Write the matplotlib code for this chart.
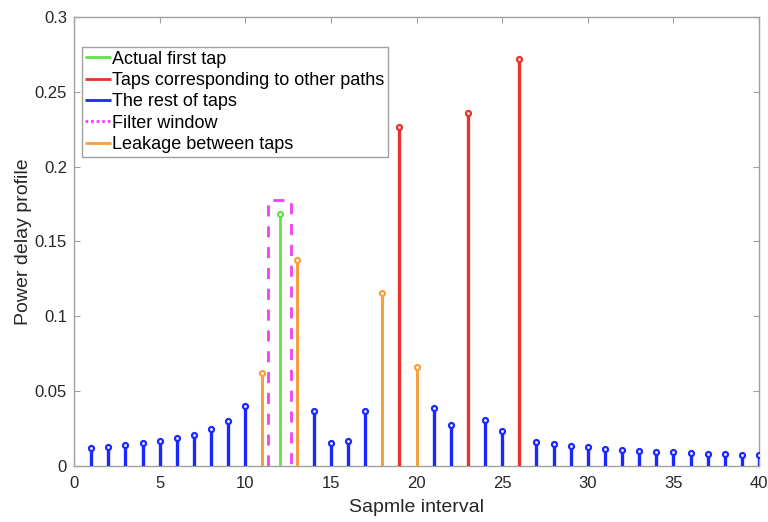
import matplotlib
matplotlib.use("Agg")
import matplotlib.pyplot as plt
import numpy as np

plt.rcParams["font.family"] = ["Liberation Sans", "DejaVu Sans"]

# tap indices and power values
rest_x = [1, 2, 3, 4, 5, 6, 7, 8, 9, 10, 14, 15, 16, 17, 21, 22, 24, 25,
          27, 28, 29, 30, 31, 32, 33, 34, 35, 36, 37, 38, 39, 40]
rest_y = [0.0117, 0.0128, 0.0138, 0.0152, 0.0167, 0.0185, 0.0210, 0.0250, 0.0303, 0.0401,
          0.0366, 0.0156, 0.0165, 0.0366, 0.0390, 0.0274, 0.0309, 0.0236,
          0.0163, 0.0150, 0.0136, 0.0125, 0.0116, 0.0107, 0.0100, 0.0094, 0.0091,
          0.0085, 0.0080, 0.0078, 0.0076, 0.0076]
first_x = [12]
first_y = [0.1685]
path_x = [19, 23, 26]
path_y = [0.2265, 0.2360, 0.2720]
leak_x = [11, 13, 18, 20]
leak_y = [0.0619, 0.1376, 0.1158, 0.0659]

# filter window around the first tap
win_left, win_right, win_top = 11.35, 12.65, 0.178

c_green = "#62e24a"
c_red = "#e8322a"
c_blue = "#1a28ff"
c_mag = "#f040f0"
c_orange = "#f7a040"

fig = plt.figure(figsize=(7.68, 5.22), dpi=100)
ax = fig.add_axes([74 / 768, 1 - 466 / 522, 685 / 768, 449 / 522])


def stems(xs, ys, color, label, lw=2.4):
    ax.vlines(xs, 0, ys, color=color, lw=lw, label=label, zorder=3)
    ax.plot(xs, ys, "o", ms=3.6, mfc="white", mec=color, mew=1.6, zorder=4)


stems(first_x, first_y, c_green, "Actual first tap", lw=2)
stems(path_x, path_y, c_red, "Taps corresponding to other paths")
stems(rest_x, rest_y, c_blue, "The rest of taps")
ax.plot([win_left, win_left, win_right, win_right], [0, win_top, win_top, 0],
        color=c_mag, lw=2, dashes=(4, 3.5), label="Filter window", zorder=2)
stems(leak_x, leak_y, c_orange, "Leakage between taps", lw=2.2)

ax.set_xlim(0, 40)
ax.set_ylim(0, 0.3)
ax.set_xticks(np.arange(0, 41, 5))
ax.set_yticks(np.arange(0, 0.301, 0.05))
ax.set_yticklabels(["0", "0.05", "0.1", "0.15", "0.2", "0.25", "0.3"])
ax.tick_params(axis="x", pad=7)
ax.tick_params(direction="in", top=True, right=True, length=4, color="#a0a0a0",
               labelsize=12, labelcolor="#262626")
ax.tick_params(axis="y", pad=5)
for s in ax.spines.values():
    s.set_color("#a0a0a0")
    s.set_linewidth(1)
ax.set_xlabel("Sapmle interval", fontsize=14, color="#262626", labelpad=6)
ax.set_ylabel("Power delay profile", fontsize=14, color="#262626", labelpad=2)

handles, labels = ax.get_legend_handles_labels()
leg = ax.legend(handles, labels, loc="upper left", bbox_to_anchor=(0.0115, 0.933),
                fontsize=13, handlelength=1.4, handletextpad=0.08, borderpad=0.2,
                labelspacing=0.24, borderaxespad=0, fancybox=False, framealpha=1,
                edgecolor="#a0a0a0")
leg.get_frame().set_linewidth(1)
for h in leg.get_lines():
    h.set_linewidth(2)
leg.get_lines()[3].set_dashes((1, 1))

fig.savefig("out.png", dpi=100)
